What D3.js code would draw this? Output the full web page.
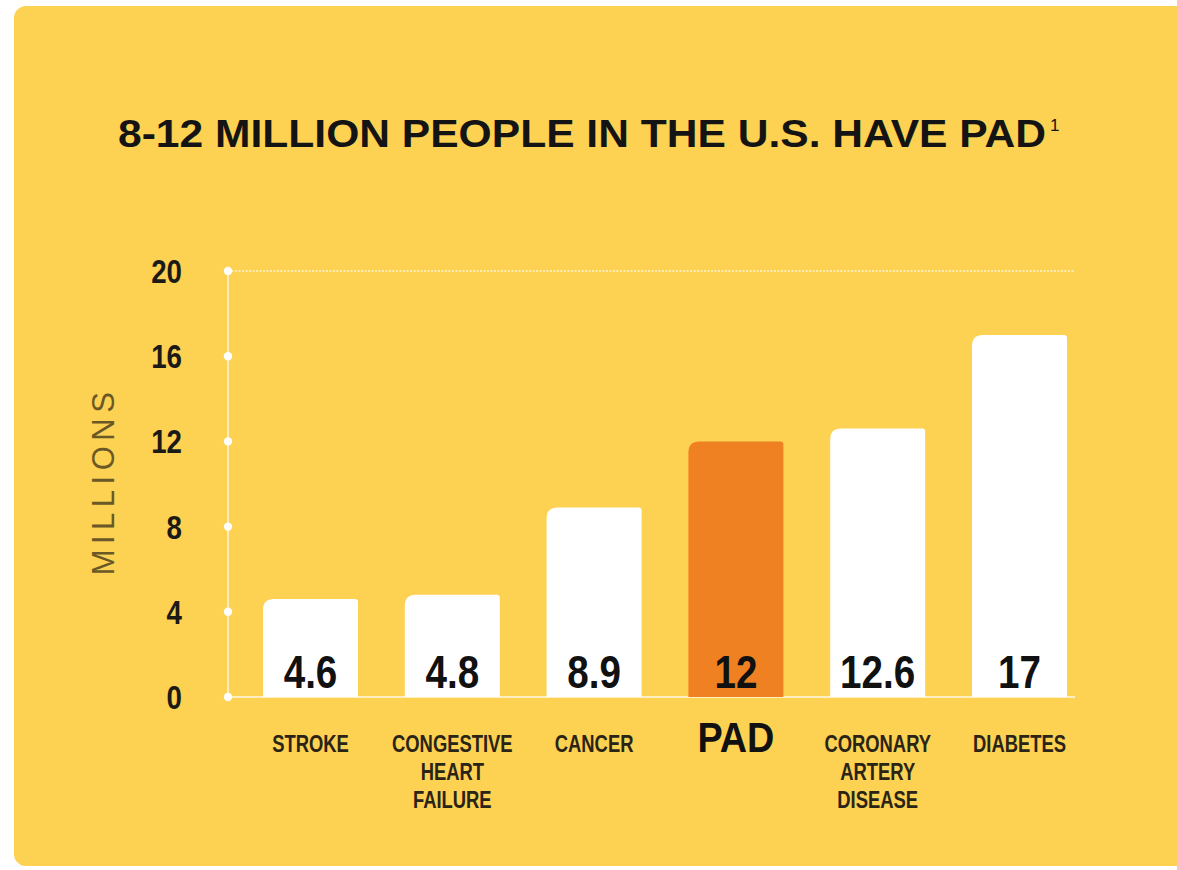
<!DOCTYPE html>
<html>
<head>
<meta charset="utf-8">
<script src="https://cdn.jsdelivr.net/npm/d3@7/dist/d3.min.js"></script>
<style>
  html, body { margin: 0; padding: 0; background: #ffffff; }
  svg { display: block; }
</style>
</head>
<body>
<svg id="chart" width="1177" height="870"></svg>
<script>
// Prevalence in the U.S., millions of people
const categories = ["STROKE", "CONGESTIVE HEART FAILURE", "CANCER", "PAD", "CORONARY ARTERY DISEASE", "DIABETES"];
const categoryLines = [["STROKE"], ["CONGESTIVE", "HEART", "FAILURE"], ["CANCER"], ["PAD"], ["CORONARY", "ARTERY", "DISEASE"], ["DIABETES"]];
const values = [4.6, 4.8, 8.9, 12, 12.6, 17];
const valueLabels = ["4.6", "4.8", "8.9", "12", "12.6", "17"];
const yTicks = [0, 4, 8, 12, 16, 20];
const highlight = "PAD";

const SANS = "'Liberation Sans', Arial, sans-serif";
const svg = d3.select("#chart");

// Condensed look: horizontally squeezed text placed with a transform
function squeezed(sel, px, py, sx) {
  return sel.attr("transform", `translate(${px},${py}) scale(${sx},1)`);
}

// Panel background
svg.append("rect")
  .attr("x", 14).attr("y", 6)
  .attr("width", 1200).attr("height", 860)
  .attr("rx", 12)
  .attr("fill", "#FDD152");

const x = d3.scaleBand()
  .domain(categories)
  .range([239.6, 1090.4])
  .paddingInner(0.33)
  .paddingOuter(0.165);

const y = d3.scaleLinear().domain([0, 20]).range([697, 271]);

// Title
const title = svg.append("text")
  .attr("x", 118).attr("y", 147)
  .attr("font-family", SANS)
  .attr("font-weight", "bold")
  .attr("font-size", 38)
  .attr("fill", "#141414");
title.append("tspan")
  .attr("textLength", 928)
  .attr("lengthAdjust", "spacingAndGlyphs")
  .text("8-12 MILLION PEOPLE IN THE U.S. HAVE PAD");
title.append("tspan")
  .attr("dx", 4).attr("dy", -16)
  .attr("font-size", 17)
  .attr("font-weight", "normal")
  .text("1");

const axisX = 228;
const right = 1075;

// Top reference line at 20 (dotted)
svg.append("line")
  .attr("x1", axisX).attr("x2", right)
  .attr("y1", y(20)).attr("y2", y(20))
  .attr("stroke", "#ffffff").attr("stroke-opacity", 0.75)
  .attr("stroke-width", 1.5)
  .attr("stroke-dasharray", "2,1.5");

// Y axis line
svg.append("line")
  .attr("x1", axisX).attr("x2", axisX)
  .attr("y1", y(20)).attr("y2", y(0))
  .attr("stroke", "#ffffff").attr("stroke-opacity", 0.8)
  .attr("stroke-width", 1.5);

// Baseline
svg.append("line")
  .attr("x1", axisX).attr("x2", right)
  .attr("y1", y(0)).attr("y2", y(0))
  .attr("stroke", "#ffffff").attr("stroke-opacity", 0.85)
  .attr("stroke-width", 1.5);

// Tick dots and labels
const ticks = svg.append("g");
ticks.selectAll("circle").data(yTicks).join("circle")
  .attr("cx", axisX).attr("cy", d => y(d))
  .attr("r", 4.2)
  .attr("fill", "#ffffff");
ticks.selectAll("text").data(yTicks).join("text")
  .each(function (d) { squeezed(d3.select(this), 182, y(d) + 12, 0.84); })
  .attr("text-anchor", "end")
  .attr("font-family", SANS)
  .attr("font-weight", "bold")
  .attr("font-size", 33)
  .attr("fill", "#1c1a16")
  .text(d => d);

// Y axis title
svg.append("text")
  .attr("transform", "translate(114,481) rotate(-90)")
  .attr("text-anchor", "middle")
  .attr("font-family", SANS)
  .attr("font-size", 31)
  .attr("letter-spacing", 5.5)
  .attr("fill", "#6a5826")
  .text("MILLIONS");

// Bars: rounded top-left corner, nearly square top-right
function barPath(x0, y0, w, h) {
  const r1 = Math.min(11, h), r2 = Math.min(3, h);
  return `M${x0},${y0 + h}` +
    `V${y0 + r1}` +
    `Q${x0},${y0} ${x0 + r1},${y0}` +
    `H${x0 + w - r2}` +
    `Q${x0 + w},${y0} ${x0 + w},${y0 + r2}` +
    `V${y0 + h}Z`;
}

const bars = svg.append("g");
bars.selectAll("path").data(categories).join("path")
  .attr("d", (c, i) => barPath(x(c), y(values[i]), x.bandwidth(), y(0) - y(values[i])))
  .attr("fill", c => c === highlight ? "#F08122" : "#ffffff");

// Value labels inside the bars
bars.selectAll("text").data(categories).join("text")
  .each(function (c) { squeezed(d3.select(this), x(c) + x.bandwidth() / 2, y(0) - 9, 0.84); })
  .attr("text-anchor", "middle")
  .attr("font-family", SANS)
  .attr("font-weight", "bold")
  .attr("font-size", 46)
  .attr("fill", "#111111")
  .text((c, i) => valueLabels[i]);

// Category labels
const cats = svg.append("g");
categories.forEach((c, i) => {
  const isHi = c === highlight;
  const t = cats.append("text")
    .attr("text-anchor", "middle")
    .attr("font-family", SANS)
    .attr("font-weight", "bold")
    .attr("font-size", isHi ? 42 : 23)
    .attr("fill", isHi ? "#111111" : "#2a2416");
  squeezed(t, x(c) + x.bandwidth() / 2, 752, isHi ? 0.9 : 0.8);
  categoryLines[i].forEach((line, k) => {
    t.append("tspan")
      .attr("x", 0)
      .attr("dy", k === 0 ? 0 : 28)
      .text(line);
  });
});
</script>
</body>
</html>
